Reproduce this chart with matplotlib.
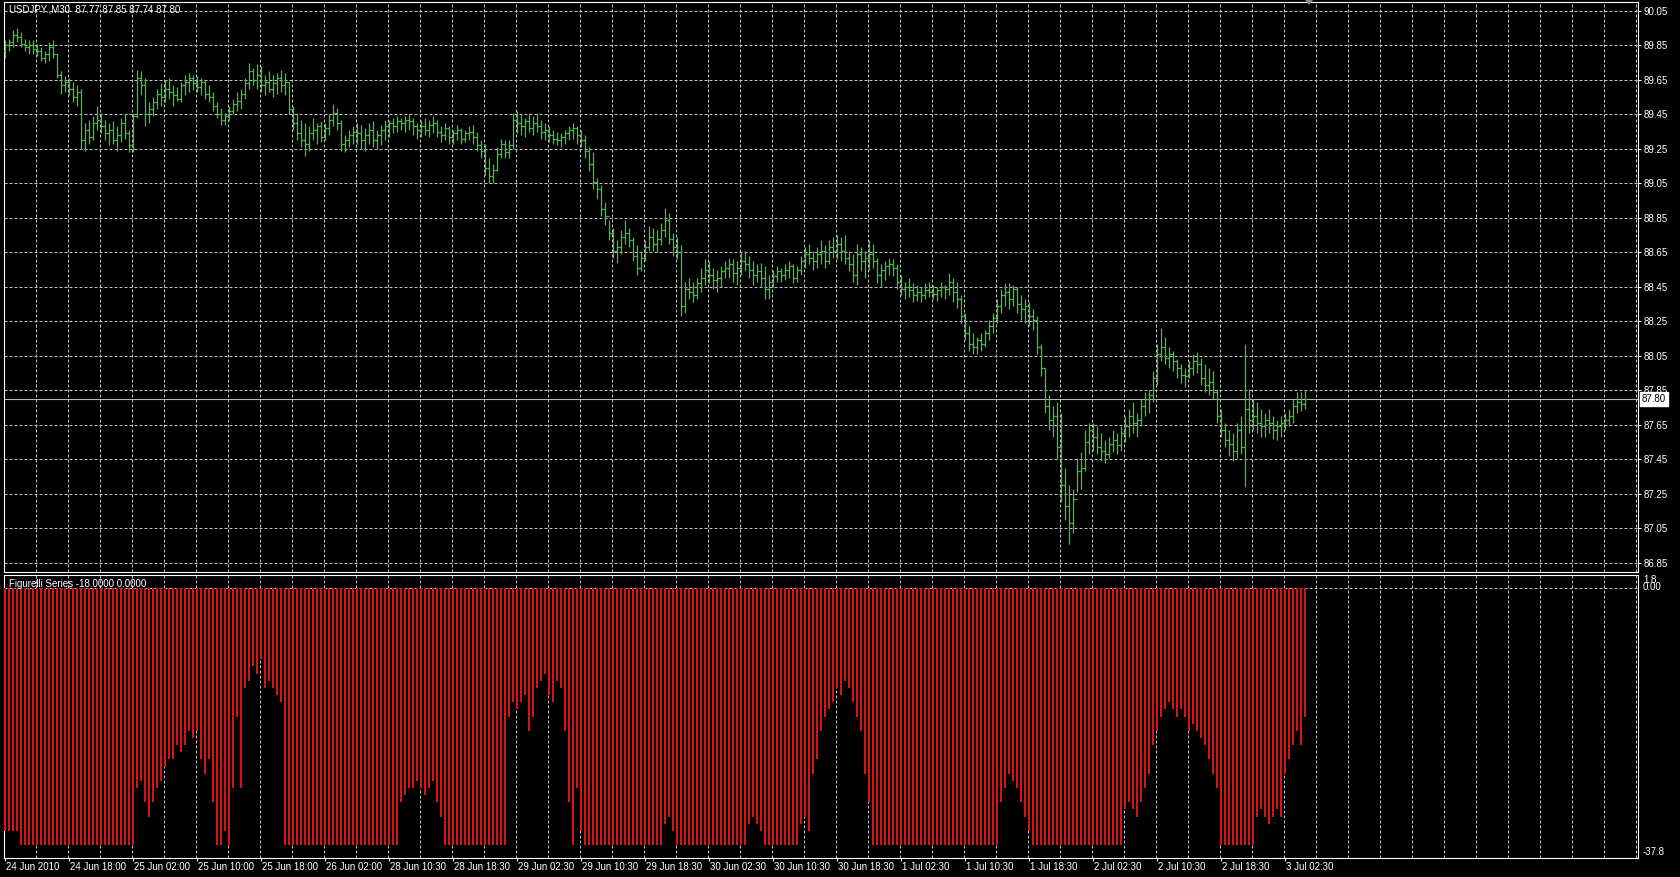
import numpy as np
import matplotlib
matplotlib.use("Agg")
import matplotlib.pyplot as plt
from matplotlib.patches import Polygon
from matplotlib.transforms import blended_transform_factory

plt.rcParams['font.family'] = ['Liberation Sans', 'DejaVu Sans']

# USDJPY M30, one row = 8 bars (one grid cell)
high = [
    89.88, 89.89, 89.94, 89.95, 89.93, 89.89, 89.88, 89.88,
    89.86, 89.84, 89.82, 89.87, 89.88, 89.80, 89.70, 89.67,
    89.66, 89.64, 89.62, 89.60, 89.40, 89.42, 89.44, 89.50,
    89.46, 89.42, 89.40, 89.41, 89.38, 89.43, 89.45, 89.36,
    89.46, 89.71, 89.70, 89.66, 89.52, 89.55, 89.60, 89.63,
    89.65, 89.66, 89.62, 89.61, 89.64, 89.68, 89.69, 89.68,
    89.67, 89.66, 89.65, 89.62, 89.58, 89.52, 89.49, 89.46,
    89.50, 89.54, 89.58, 89.60, 89.66, 89.75, 89.72, 89.74,
    89.73, 89.68, 89.70, 89.68, 89.69, 89.71, 89.69, 89.64,
    89.50, 89.46, 89.42, 89.40, 89.38, 89.43, 89.40, 89.41,
    89.40, 89.45, 89.51, 89.49, 89.42, 89.33, 89.36, 89.38,
    89.40, 89.39, 89.37, 89.40, 89.41, 89.36, 89.39, 89.42,
    89.42, 89.43, 89.44, 89.43, 89.44, 89.45, 89.43, 89.40,
    89.42, 89.43, 89.42, 89.44, 89.42, 89.38, 89.40, 89.38,
    89.36, 89.39, 89.37, 89.36, 89.38, 89.39, 89.35, 89.30,
    89.28, 89.20, 89.16, 89.26, 89.31, 89.30, 89.30, 89.46,
    89.47, 89.45, 89.43, 89.46, 89.44, 89.46, 89.42, 89.40,
    89.38, 89.36, 89.35, 89.34, 89.36, 89.38, 89.40, 89.38,
    89.36, 89.33, 89.26, 89.23, 89.08, 89.04, 88.94, 88.84,
    88.79, 88.72, 88.78, 88.84, 88.79, 88.74, 88.69, 88.66,
    88.72, 88.80, 88.79, 88.78, 88.82, 88.91, 88.88, 88.76,
    88.74, 88.69, 88.48, 88.50, 88.48, 88.50, 88.56, 88.61,
    88.60, 88.56, 88.55, 88.57, 88.60, 88.62, 88.61, 88.60,
    88.65, 88.66, 88.63, 88.60, 88.58, 88.59, 88.57, 88.52,
    88.55, 88.57, 88.56, 88.58, 88.60, 88.58, 88.57, 88.63,
    88.68, 88.70, 88.66, 88.68, 88.72, 88.69, 88.72, 88.74,
    88.75, 88.74, 88.75, 88.66, 88.64, 88.70, 88.68, 88.66,
    88.72, 88.70, 88.62, 88.58, 88.60, 88.62, 88.61, 88.58,
    88.52, 88.48, 88.50, 88.47, 88.46, 88.45, 88.47, 88.48,
    88.46, 88.45, 88.48, 88.46, 88.53, 88.50, 88.48, 88.40,
    88.30, 88.22, 88.18, 88.16, 88.18, 88.20, 88.26, 88.30,
    88.38, 88.44, 88.47, 88.47, 88.46, 88.45, 88.40, 88.38,
    88.36, 88.32, 88.28, 88.12, 87.98, 87.82, 87.76, 87.78,
    87.72, 87.40, 87.30, 87.28, 87.46, 87.49, 87.62, 87.66,
    87.66, 87.64, 87.60, 87.56, 87.58, 87.62, 87.60, 87.64,
    87.70, 87.74, 87.78, 87.72, 87.80, 87.84, 87.85, 87.96,
    88.12, 88.21, 88.16, 88.10, 88.08, 88.03, 88.00, 87.98,
    88.02, 88.06, 88.07, 88.04, 88.00, 87.98, 87.96, 87.86,
    87.74, 87.66, 87.62, 87.60, 87.66, 87.70, 88.12, 87.86,
    87.80, 87.78, 87.74, 87.72, 87.74, 87.70, 87.68, 87.70,
    87.72, 87.74, 87.80, 87.84, 87.84, 87.85,
]
low = [
    89.78, 89.82, 89.84, 89.87, 89.84, 89.82, 89.80, 89.80,
    89.79, 89.76, 89.75, 89.76, 89.78, 89.66, 89.57, 89.58,
    89.56, 89.52, 89.50, 89.25, 89.24, 89.28, 89.30, 89.36,
    89.34, 89.30, 89.27, 89.28, 89.24, 89.29, 89.31, 89.23,
    89.23, 89.43, 89.56, 89.38, 89.40, 89.44, 89.48, 89.50,
    89.52, 89.54, 89.50, 89.53, 89.52, 89.56, 89.58, 89.59,
    89.58, 89.56, 89.54, 89.52, 89.47, 89.43, 89.39, 89.39,
    89.42, 89.45, 89.47, 89.48, 89.54, 89.60, 89.62, 89.60,
    89.58, 89.56, 89.58, 89.55, 89.57, 89.58, 89.56, 89.45,
    89.36, 89.30, 89.26, 89.21, 89.24, 89.30, 89.28, 89.29,
    89.30, 89.33, 89.38, 89.36, 89.24, 89.23, 89.26, 89.28,
    89.28, 89.25, 89.24, 89.28, 89.26, 89.25, 89.27, 89.30,
    89.32, 89.34, 89.35, 89.36, 89.35, 89.36, 89.33, 89.31,
    89.32, 89.33, 89.32, 89.34, 89.32, 89.29, 89.30, 89.28,
    89.28, 89.30, 89.28, 89.29, 89.30, 89.28, 89.24, 89.20,
    89.10, 89.05, 89.05, 89.12, 89.20, 89.20, 89.20, 89.25,
    89.34, 89.33, 89.32, 89.35, 89.33, 89.35, 89.31, 89.30,
    89.29, 89.28, 89.27, 89.26, 89.28, 89.30, 89.31, 89.28,
    89.26, 89.20, 89.12, 89.02, 88.96, 88.86, 88.81, 88.72,
    88.62, 88.59, 88.64, 88.70, 88.68, 88.60, 88.52, 88.54,
    88.60, 88.66, 88.66, 88.65, 88.69, 88.74, 88.70, 88.63,
    88.61, 88.28, 88.30, 88.38, 88.36, 88.38, 88.42, 88.46,
    88.47, 88.44, 88.42, 88.45, 88.50, 88.50, 88.48, 88.46,
    88.52, 88.54, 88.50, 88.46, 88.48, 88.45, 88.38, 88.38,
    88.45, 88.48, 88.48, 88.49, 88.50, 88.47, 88.48, 88.52,
    88.56, 88.58, 88.55, 88.56, 88.58, 88.56, 88.58, 88.62,
    88.61, 88.60, 88.58, 88.54, 88.48, 88.46, 88.54, 88.50,
    88.55, 88.56, 88.47, 88.45, 88.49, 88.52, 88.51, 88.44,
    88.40, 88.38, 88.39, 88.36, 88.37, 88.36, 88.38, 88.39,
    88.38, 88.37, 88.39, 88.38, 88.40, 88.36, 88.33, 88.24,
    88.14, 88.08, 88.06, 88.06, 88.08, 88.10, 88.14, 88.18,
    88.24, 88.30, 88.34, 88.32, 88.34, 88.30, 88.26, 88.24,
    88.22, 88.20, 88.06, 87.93, 87.72, 87.62, 87.58, 87.45,
    87.20, 87.10, 86.96, 87.02, 87.26, 87.28, 87.38, 87.48,
    87.50, 87.48, 87.44, 87.43, 87.46, 87.49, 87.48, 87.50,
    87.55, 87.58, 87.60, 87.58, 87.64, 87.70, 87.72, 87.78,
    87.88, 88.02, 88.00, 87.98, 87.96, 87.92, 87.89, 87.87,
    87.92, 87.94, 87.95, 87.88, 87.84, 87.82, 87.80, 87.66,
    87.58, 87.52, 87.47, 87.44, 87.46, 87.48, 87.29, 87.60,
    87.62, 87.60, 87.58, 87.58, 87.60, 87.57, 87.56, 87.58,
    87.62, 87.64, 87.66, 87.72, 87.73, 87.74,
]
close = [
    89.85, 89.87, 89.91, 89.90, 89.86, 89.84, 89.85, 89.83,
    89.82, 89.78, 89.80, 89.84, 89.80, 89.68, 89.62, 89.64,
    89.60, 89.55, 89.58, 89.30, 89.36, 89.32, 89.40, 89.42,
    89.38, 89.34, 89.36, 89.30, 89.33, 89.40, 89.34, 89.27,
    89.44, 89.66, 89.62, 89.45, 89.48, 89.52, 89.57, 89.55,
    89.60, 89.58, 89.56, 89.54, 89.62, 89.64, 89.66, 89.63,
    89.61, 89.64, 89.57, 89.55, 89.50, 89.45, 89.42, 89.44,
    89.47, 89.51, 89.53, 89.57, 89.63, 89.70, 89.65, 89.68,
    89.62, 89.64, 89.60, 89.63, 89.66, 89.62, 89.64, 89.48,
    89.40, 89.34, 89.30, 89.28, 89.34, 89.36, 89.38, 89.32,
    89.37, 89.42, 89.46, 89.40, 89.28, 89.30, 89.33, 89.35,
    89.34, 89.30, 89.33, 89.36, 89.30, 89.33, 89.36, 89.38,
    89.40, 89.38, 89.41, 89.40, 89.42, 89.41, 89.38, 89.36,
    89.38, 89.36, 89.39, 89.40, 89.35, 89.33, 89.37, 89.32,
    89.34, 89.36, 89.31, 89.34, 89.35, 89.32, 89.27, 89.24,
    89.14, 89.09, 89.13, 89.22, 89.28, 89.23, 89.27, 89.42,
    89.40, 89.38, 89.41, 89.37, 89.40, 89.38, 89.35, 89.36,
    89.33, 89.31, 89.30, 89.32, 89.34, 89.36, 89.37, 89.33,
    89.30, 89.24, 89.16, 89.06, 89.02, 88.90, 88.86, 88.76,
    88.66, 88.68, 88.74, 88.76, 88.72, 88.63, 88.56, 88.62,
    88.68, 88.74, 88.70, 88.73, 88.78, 88.84, 88.73, 88.68,
    88.65, 88.34, 88.44, 88.42, 88.40, 88.47, 88.50, 88.55,
    88.52, 88.49, 88.50, 88.54, 88.56, 88.58, 88.53, 88.56,
    88.60, 88.58, 88.55, 88.52, 88.54, 88.50, 88.44, 88.48,
    88.51, 88.54, 88.52, 88.55, 88.57, 88.50, 88.55, 88.60,
    88.64, 88.62, 88.60, 88.64, 88.66, 88.60, 88.68, 88.66,
    88.70, 88.66, 88.62, 88.58, 88.52, 88.64, 88.60, 88.62,
    88.64, 88.60, 88.52, 88.55, 88.57, 88.58, 88.56, 88.48,
    88.44, 88.45, 88.43, 88.40, 88.42, 88.40, 88.43, 88.42,
    88.41, 88.43, 88.45, 88.44, 88.48, 88.42, 88.38, 88.28,
    88.18, 88.12, 88.10, 88.14, 88.12, 88.18, 88.22, 88.27,
    88.34, 88.40, 88.42, 88.38, 88.44, 88.35, 88.32, 88.34,
    88.28, 88.26, 88.10, 87.98, 87.76, 87.68, 87.70, 87.52,
    87.30, 87.18, 87.08, 87.22, 87.38, 87.40, 87.55, 87.62,
    87.58, 87.52, 87.50, 87.48, 87.54, 87.56, 87.53, 87.60,
    87.64, 87.70, 87.66, 87.68, 87.76, 87.80, 87.82, 87.92,
    88.06, 88.10, 88.04, 88.06, 88.02, 87.98, 87.94, 87.93,
    87.98, 88.02, 88.00, 87.92, 87.88, 87.90, 87.84, 87.70,
    87.62, 87.56, 87.54, 87.50, 87.62, 87.52, 87.74, 87.68,
    87.70, 87.66, 87.64, 87.68, 87.66, 87.62, 87.64, 87.66,
    87.68, 87.70, 87.76, 87.78, 87.77, 87.80,
]
first_open = 89.82

# Figurelli Series histogram
figurelli = [
    -34, -34, -34, -34, -36, -36, -36, -36,
    -36, -36, -36, -36, -36, -36, -36, -36,
    -36, -36, -36, -36, -36, -36, -36, -36,
    -36, -36, -36, -36, -36, -36, -36, -36,
    -36, -28, -27, -30, -32, -30, -28, -27,
    -25, -24, -24, -22, -23, -22, -20, -21,
    -20, -24, -26, -24, -30, -36, -36, -34,
    -36, -28, -18, -28, -14, -13, -11, -12,
    -10, -14, -13, -14, -15, -16, -36, -36,
    -36, -36, -36, -36, -36, -36, -36, -36,
    -36, -36, -36, -36, -36, -36, -36, -36,
    -36, -36, -36, -36, -36, -36, -36, -36,
    -36, -36, -36, -30, -29, -28, -28, -27,
    -28, -29, -28, -27, -30, -32, -36, -36,
    -36, -36, -36, -36, -36, -36, -36, -36,
    -36, -36, -36, -36, -36, -36, -18, -16,
    -17, -16, -15, -20, -18, -14, -13, -12,
    -15, -16, -13, -14, -20, -30, -36, -28,
    -34, -36, -36, -36, -36, -36, -36, -36,
    -36, -36, -36, -36, -36, -36, -36, -36,
    -36, -36, -36, -36, -36, -33, -32, -34,
    -36, -36, -36, -36, -36, -36, -36, -36,
    -36, -36, -36, -36, -36, -36, -36, -36,
    -36, -36, -33, -32, -33, -34, -36, -36,
    -36, -36, -36, -36, -36, -36, -36, -33,
    -32, -34, -26, -24, -20, -18, -17, -16,
    -14, -15, -13, -14, -16, -18, -20, -26,
    -30, -36, -36, -36, -36, -36, -36, -36,
    -36, -36, -36, -36, -36, -36, -36, -36,
    -36, -36, -36, -36, -36, -36, -36, -36,
    -36, -36, -36, -36, -36, -36, -36, -36,
    -36, -30, -28, -26, -27, -28, -30, -32,
    -34, -36, -36, -36, -36, -36, -36, -36,
    -36, -36, -36, -36, -36, -36, -36, -36,
    -36, -36, -36, -36, -36, -36, -36, -36,
    -31, -30, -31, -32, -30, -28, -26, -22,
    -20, -18, -17, -16, -17, -18, -17, -18,
    -20, -19, -20, -21, -22, -24, -26, -28,
    -36, -36, -36, -36, -36, -36, -36, -36,
    -36, -32, -31, -32, -33, -32, -31, -32,
    -26, -24, -22, -20, -22, -18,
]

time_labels = ['24 Jun 2010', '24 Jun 18:00', '25 Jun 02:00', '25 Jun 10:00',
               '25 Jun 18:00', '26 Jun 02:00', '28 Jun 10:30', '28 Jun 18:30',
               '29 Jun 02:30', '29 Jun 10:30', '29 Jun 18:30', '30 Jun 02:30',
               '30 Jun 10:30', '30 Jun 18:30', '1 Jul 02:30', '1 Jul 10:30',
               '1 Jul 18:30', '2 Jul 02:30', '2 Jul 10:30', '2 Jul 18:30',
               '3 Jul 02:30']
price_levels = [86.85, 87.05, 87.25, 87.45, 87.65, 87.85, 88.05, 88.25, 88.45,
                88.65, 88.85, 89.05, 89.25, 89.45, 89.65, 89.85, 90.05]
last_price = 87.80

W, H = 1680, 877
BG = 'black'
GREEN = '#33cc33'
RED = '#d81414'
GRID = '#c4c4c4'
FS = 7

high = np.array(high)
low = np.array(low)
close = np.array(close)
opn = np.r_[first_open, close[:-1]]
x = np.arange(len(close))


def px_axes(fig, x0, y0, x1, y1):
    return fig.add_axes([x0 / W, 1 - y1 / H, (x1 - x0) / W, (y1 - y0) / H])


fig = plt.figure(figsize=(W / 100, H / 100), dpi=100, facecolor=BG)

ax = px_axes(fig, 4, 2, 1638, 572)
ax2 = px_axes(fig, 4, 575, 1638, 858)

for a in (ax, ax2):
    a.set_facecolor(BG)
    for s in a.spines.values():
        s.set_color('white')
        s.set_linewidth(0.8)
    a.set_xlim(-0.25, 408.25)
    for xv in range(0, 409, 8):
        a.axvline(xv - 0.15, color=GRID, lw=0.72, ls=(0, (3, 2)), zorder=0)

# price panel
ax.set_ylim(86.796, 90.102)
for lv in price_levels:
    ax.axhline(lv, color=GRID, lw=0.72, ls=(0, (3, 2)), zorder=0)
ax.axhline(last_price, color='#b8b8b8', lw=0.8, zorder=1)
ax.vlines(x, low, high, colors=GREEN, lw=0.9, zorder=3)
ax.hlines(opn, x - 0.45, x, colors=GREEN, lw=0.9, zorder=3)
ax.hlines(close, x, x + 0.45, colors=GREEN, lw=0.9, zorder=3)
ax.set_xticks([])
ax.yaxis.tick_right()
ax.set_yticks(price_levels)
ax.set_yticklabels(['%.2f' % v for v in price_levels])
ax.tick_params(axis='y', colors='white', length=2.2, width=0.72,
               labelsize=FS, pad=1.5)

# indicator panel
ax2.set_ylim(-37.8, 1.8)
ax2.axhline(0, color=GRID, lw=0.72, ls=(0, (3, 2)), zorder=0)
ax2.vlines(x, figurelli, 0, colors=RED, lw=1.44, zorder=3, antialiased=False)
ax2.set_yticks([])
ax2.set_xticks(range(0, 321, 16))
ax2.set_xticklabels([''] * len(time_labels))
ax2.tick_params(axis='x', colors='white', length=2.5, width=0.72)

for i, lab in enumerate(time_labels):
    fig.text((5 + 64 * i + 1.5) / W, 1 - 867 / H, lab, color='white',
             fontsize=FS, ha='left', va='center')

# labels
fig.text(9 / W, 1 - 9 / H, 'USDJPY.,M30  87.77 87.85 87.74 87.80',
         color='white', fontsize=FS, ha='left', va='center')
fig.text(9 / W, 1 - 584 / H, 'Figurelli Series -18.0000 0.0000',
         color='white', fontsize=FS, ha='left', va='center')
fig.text(1643 / W, 1 - 580 / H, '1.8', color='white', fontsize=FS, va='center')
fig.text(1643 / W, 1 - 587 / H, '0.00', color='white', fontsize=FS, va='center')
fig.text(1643 / W, 1 - 852 / H, '-37.8', color='white', fontsize=FS, va='center')

# current price box
tr = blended_transform_factory(fig.transFigure, ax.transData)
ax.text(1642 / W, last_price, '%.2f' % last_price, transform=tr, color='black',
        fontsize=FS, va='center', ha='left', zorder=10, clip_on=False,
        bbox=dict(boxstyle='square,pad=0.18', fc='white', ec='white'))

# chart shift marker
tri = Polygon([[1305 / W, 1.0], [1313 / W, 1.0], [1309 / W, 1 - 5 / H]],
              closed=True, transform=fig.transFigure, fc='#8a8a8a', ec='none')
fig.patches.append(tri)

fig.savefig('out.png', dpi=100, facecolor=BG)
